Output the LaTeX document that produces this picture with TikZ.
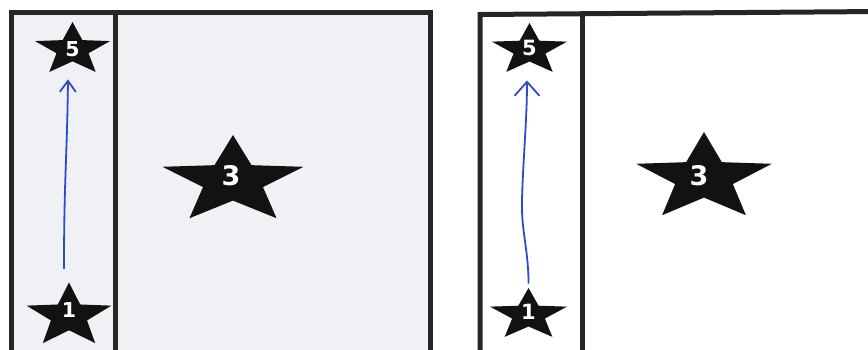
\documentclass[tikz,border=0pt]{standalone}
\usepackage{fontspec}
\newfontfamily\digitfont{DejaVu Sans}
\usetikzlibrary{shapes.geometric,arrows.meta}
\definecolor{panelgray}{RGB}{239,241,245}
\definecolor{penblue}{RGB}{45,75,205}
\begin{document}
\begin{tikzpicture}[x=1pt,y=-1pt,
  starshape/.style={star, star points=5, star point ratio=2.35, fill=black!93, draw=none, inner sep=0pt, outer sep=0pt, transform shape},
  digit/.style={text=white, inner sep=0pt},
  frame/.style={draw=black!85, line width=5pt},
  pen/.style={draw=penblue, line width=1.8pt, line cap=round, line join=round}]
\useasboundingbox (0,0) rectangle (868,349);
% panels
\begin{scope}
\clip (0,0) rectangle (868,349);
\fill[panelgray] (11,12.5) rectangle (430,360);
\draw[frame] (11,360) -- (11,12.5) -- (430,12.5) -- (430,360);
\draw[frame] (115.5,12.5) -- (115.5,360);
\draw[frame] (480,360) -- (480,14.5) -- (880,11.5);
\draw[frame] (582,13.5) -- (582,360);
\end{scope}
% stars left
\begin{scope}[shift={(72.5,49.6)}, xscale=1.43]
  \node[starshape, minimum size=55.2pt] (L5) at (0,0) {};
\end{scope}
\begin{scope}[shift={(233,181)}, xscale=1.61]
  \node[starshape, minimum size=92pt] (L3) at (0,0) {};
\end{scope}
\begin{scope}[shift={(69,316)}, xscale=1.33]
  \node[starshape, minimum size=67pt] (L1) at (0,0) {};
\end{scope}
% stars right
\begin{scope}[shift={(529.5,50)}, xscale=1.46]
  \node[starshape, minimum size=54pt] (R5) at (0,0) {};
\end{scope}
\begin{scope}[shift={(704,178)}, xscale=1.55]
  \node[starshape, minimum size=92pt] (R3) at (0,0) {};
\end{scope}
\begin{scope}[shift={(528.5,315)}, xscale=1.50]
  \node[starshape, minimum size=54pt] (R1) at (0,0) {};
\end{scope}
% digits
\node[digit, font={\digitfont\bfseries\fontsize{20.5}{20.5}\selectfont}] (tL5) at ([yshift=0pt]L5.center) {5};
\node[digit, font={\digitfont\bfseries\fontsize{27}{27}\selectfont}] (tL3) at ([shift={(-2pt,5pt)}]L3.center) {3};
\node[digit, font={\digitfont\bfseries\fontsize{20.5}{20.5}\selectfont}] (tL1) at ([yshift=6pt]L1.center) {1};
\node[digit, font={\digitfont\bfseries\fontsize{21}{21}\selectfont}] (tR5) at ([yshift=2pt]R5.center) {5};
\node[digit, font={\digitfont\bfseries\fontsize{27}{27}\selectfont}] (tR3) at ([shift={(-5pt,2pt)}]R3.center) {3};
\node[digit, font={\digitfont\bfseries\fontsize{21}{21}\selectfont}] (tR1) at ([yshift=3pt]R1.center) {1};
% arrows
\draw[pen, -{Straight Barb[length=11pt,width=16pt,line width=1.8pt]}]
  ([shift={(-5pt,14pt)}]L1.north) .. controls +(0,-90) and +(-1,80) .. ([shift={(-4.5pt,-18pt)}]L5.south);
\draw[pen, -{Straight Barb[length=14pt,width=25pt,line width=1.8pt]}]
  ([yshift=5pt]R1.north) .. controls +(0,-33) and (521,230) .. (522,200)
  .. controls (523,160) and (527,120) .. ([shift={(-2.5pt,-19pt)}]R5.south);
\end{tikzpicture}
\end{document}
